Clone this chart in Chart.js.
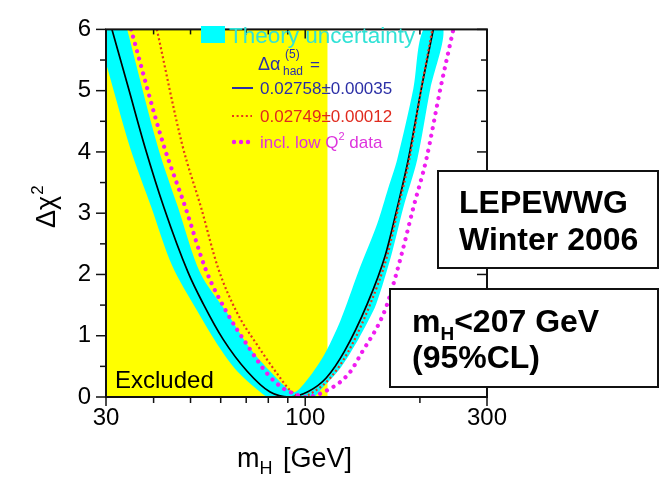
<!DOCTYPE html>
<html>
<head>
<meta charset="utf-8">
<script src="https://cdn.jsdelivr.net/npm/chart.js@4.4.1/dist/chart.umd.min.js"></script>
<style>
  html, body { margin: 0; padding: 0; background: #ffffff; }
  canvas { display: block; }
</style>
</head>
<body>
<canvas id="chart" width="661" height="477"></canvas>
<script>
// Δχ² of the electroweak fit as a function of the Higgs mass (GeV)

// Direct-search exclusion limit
const excludedBelow = 114.4;

// Δα_had = 0.02758 ± 0.00035 (solid line)
const fitMass = [31.1, 34.4, 38.0, 42.6, 49.3, 54.0, 60.9, 70.4, 80.9, 90.8, 101.9, 113.5, 126.6, 145.5, 162.2, 174.4, 186.5, 201.7, 216.9];
const fitChi2 = [6.00, 5.03, 4.07, 3.09, 2.03, 1.52, 0.94, 0.42, 0.08, 0.00, 0.09, 0.31, 0.74, 1.52, 2.31, 3.09, 3.88, 5.03, 6.00];

// Δα_had = 0.02749 ± 0.00012 (thin dotted line)
const altMass = [40.8, 47.5, 53.3, 59.1, 66.3, 74.8, 84.4, 91.3, 97.6, 105.6, 116.3, 129.7, 148.2, 164.2, 175.5, 187.6, 201.7, 215.6];
const altChi2 = [6.00, 4.13, 3.09, 2.10, 1.37, 0.85, 0.38, 0.11, 0.00, 0.09, 0.31, 0.74, 1.52, 2.31, 3.09, 3.88, 5.03, 6.00];

// including low-Q² data (heavy dotted line)
const lowQ2Mass = [34.9, 42.4, 48.5, 54.9, 62.4, 70.4, 79.5, 87.5, 93.0, 100.0, 114.2, 130.5, 141.2, 156.5, 164.2, 178.7, 192.2, 207.9, 226.3, 244.8];
const lowQ2Chi2 = [6.00, 4.13, 3.09, 2.07, 1.37, 0.85, 0.38, 0.14, 0.06, 0.00, 0.11, 0.39, 0.74, 1.21, 1.52, 2.31, 3.09, 3.88, 5.03, 6.00];

// Theory uncertainty band: upper and lower envelopes
const bandUpperMass = [34.1, 41.1, 46.4, 53.0, 62.4, 71.7, 80.9, 93.0, 99.4, 111.5, 123.6, 137.8, 154.6, 165.2, 174.4, 192.2, 204.2];
const bandUpperChi2 = [6.00, 4.07, 3.09, 2.03, 1.37, 0.79, 0.42, 0.08, 0.22, 0.66, 1.24, 2.04, 2.83, 3.41, 3.88, 5.03, 6.00];
const bandLowerMass = [28.3, 30.0, 34.7, 39.5, 44.7, 52.0, 59.8, 66.3, 76.2, 79.9, 105.0, 109.5, 123.6, 137.8, 145.5, 153.7, 168.2, 180.9, 196.9, 213.0, 230.5];
const bandLowerChi2 = [6.00, 5.45, 4.07, 3.09, 2.15, 1.41, 0.79, 0.42, 0.08, 0.00, 0.00, 0.11, 0.47, 0.94, 1.21, 1.52, 2.31, 3.09, 3.88, 5.03, 6.00];

// Axis ticks
const xMajorTicks = [30, 100, 300];
const xMinorTicks = [40, 50, 60, 70, 80, 90, 200];
const yMajorTicks = [0, 1, 2, 3, 4, 5, 6];
const yMinorTicks = [0.5, 1.5, 2.5, 3.5, 4.5, 5.5];

const FONT = '"Liberation Sans", Arial, Helvetica, sans-serif';
const CYAN = '#00ffff';
const BLUE = '#2b2fa6';
const RED = '#e6381a';
const MAGENTA = '#f01cf0';

const pts = (xs, ys) => xs.map((x, i) => ({ x, y: ys[i] }));

// closed outline of the band: along the lower envelope, back along the upper one
const bandOutline = pts(bandLowerMass, bandLowerChi2).concat(pts(bandUpperMass, bandUpperChi2).reverse());

function put(ctx, str, x, y, size, color, bold) {
  ctx.font = (bold ? 'bold ' : '') + size + 'px ' + FONT;
  ctx.fillStyle = color;
  ctx.textAlign = 'left';
  ctx.textBaseline = 'alphabetic';
  ctx.fillText(str, x, y);
  return ctx.measureText(str).width;
}

const decorations = {
  id: 'decorations',
  beforeDatasetsDraw(chart) {
    // excluded region
    const { ctx, chartArea: a, scales: { x } } = chart;
    const xr = x.getPixelForValue(excludedBelow);
    ctx.save();
    ctx.fillStyle = '#ffff00';
    ctx.fillRect(a.left, a.top, xr - a.left, a.bottom - a.top);
    ctx.restore();
  },
  afterDatasetsDraw(chart) {
    const { ctx, chartArea: a, scales: { x, y } } = chart;
    ctx.save();

    // frame
    ctx.strokeStyle = '#111';
    ctx.lineWidth = 2;
    ctx.strokeRect(a.left, a.top, a.right - a.left, a.bottom - a.top);

    // tick marks: outward on left/bottom, inward on top/right
    ctx.lineWidth = 1.5;
    const seg = (x1, y1, x2, y2) => { ctx.beginPath(); ctx.moveTo(x1, y1); ctx.lineTo(x2, y2); ctx.stroke(); };
    xMajorTicks.forEach(v => { const p = x.getPixelForValue(v); seg(p, a.bottom, p, a.bottom + 9); seg(p, a.top, p, a.top + 9); });
    xMinorTicks.forEach(v => { const p = x.getPixelForValue(v); seg(p, a.bottom, p, a.bottom + 6); seg(p, a.top, p, a.top + 5); });
    yMajorTicks.forEach(v => { const p = y.getPixelForValue(v); seg(a.left - 10, p, a.left, p); seg(a.right - 10, p, a.right, p); });
    yMinorTicks.forEach(v => { const p = y.getPixelForValue(v); seg(a.left - 6, p, a.left, p); seg(a.right - 6, p, a.right, p); });

    // legend
    ctx.fillStyle = CYAN;
    ctx.fillRect(201, 26, 24, 17);
    put(ctx, 'Theory uncertainty', 229, 43, 22.5, '#30e2d6');

    put(ctx, 'Δα', 258, 70, 18, BLUE);
    put(ctx, 'had', 283, 75, 12, BLUE);
    put(ctx, '(5)', 285, 58, 12, BLUE);
    put(ctx, '=', 310, 70, 17, BLUE);

    ctx.strokeStyle = BLUE;
    ctx.lineWidth = 2;
    seg(232, 88, 253, 88);
    put(ctx, '0.02758±0.00035', 260, 94, 17, BLUE);

    ctx.strokeStyle = RED;
    ctx.setLineDash([2, 2.6]);
    seg(232, 116, 252, 116);
    ctx.setLineDash([]);
    put(ctx, '0.02749±0.00012', 260, 122, 17, '#e02a1e');

    ctx.fillStyle = MAGENTA;
    [234, 241, 248].forEach(cx => { ctx.beginPath(); ctx.arc(cx, 142, 2.2, 0, Math.PI * 2); ctx.fill(); });
    let w = put(ctx, 'incl. low Q', 260, 148, 17, '#dd33dd');
    w += put(ctx, '2', 260 + w, 140, 11, '#dd33dd');
    put(ctx, ' data', 260 + w, 148, 17, '#dd33dd');

    // excluded label
    put(ctx, 'Excluded', 115, 388, 24, '#000');

    // axis titles
    let xw = put(ctx, 'm', 237, 467, 27, '#000');
    put(ctx, 'H', 237 + xw, 474, 18, '#000');
    put(ctx, '[GeV]', 283, 467, 27, '#000');

    ctx.save();
    ctx.translate(55, 228);
    ctx.rotate(-Math.PI / 2);
    const yw = put(ctx, 'Δχ', 0, 0, 27, '#000');
    put(ctx, '2', yw + 1, -12, 17, '#000');
    ctx.restore();

    // info boxes
    ctx.lineWidth = 2;
    ctx.strokeStyle = '#111';
    ctx.fillStyle = '#fff';
    ctx.fillRect(438, 171, 220, 97);
    ctx.strokeRect(438, 171, 220, 97);
    put(ctx, 'LEPEWWG', 459, 213, 32, '#000', true);
    put(ctx, 'Winter 2006', 459, 250, 32, '#000', true);

    ctx.fillStyle = '#fff';
    ctx.fillRect(390, 289, 268, 98);
    ctx.strokeRect(390, 289, 268, 98);
    let bw = put(ctx, 'm', 412, 332, 32, '#000', true);
    bw += put(ctx, 'H', 412 + bw, 340, 19, '#000', true);
    put(ctx, '<207 GeV', 412 + bw, 332, 32, '#000', true);
    put(ctx, '(95%CL)', 412, 368, 32, '#000', true);

    ctx.restore();
  }
};

const lineDefaults = { pointRadius: 0, cubicInterpolationMode: 'monotone', clip: 0 };

new Chart(document.getElementById('chart'), {
  type: 'line',
  data: {
    datasets: [
      { ...lineDefaults, label: 'incl. low Q2 data', data: pts(lowQ2Mass, lowQ2Chi2),
        borderColor: MAGENTA, borderWidth: 4.2, borderDash: [0.01, 7.6], borderCapStyle: 'round', fill: false },
      { ...lineDefaults, label: '0.02749±0.00012', data: pts(altMass, altChi2),
        borderColor: RED, borderWidth: 2.2, borderDash: [2, 2.6], fill: false },
      { ...lineDefaults, label: '0.02758±0.00035', data: pts(fitMass, fitChi2),
        borderColor: '#000', borderWidth: 1.7, fill: false },
      { pointRadius: 0, clip: 0, label: 'Theory uncertainty', data: bandOutline,
        cubicInterpolationMode: 'default', tension: 0.3,
        borderColor: 'rgba(0,0,0,0)', borderWidth: 0, backgroundColor: CYAN, fill: 'shape' }
    ]
  },
  options: {
    responsive: false,
    devicePixelRatio: 1,
    animation: false,
    events: [],
    layout: { padding: { left: 0, right: 174, top: 15, bottom: 0 } },
    plugins: { legend: { display: false }, tooltip: { enabled: false } },
    scales: {
      x: {
        type: 'logarithmic', min: 30, max: 300,
        afterBuildTicks: s => { s.ticks = xMajorTicks.map(v => ({ value: v })); },
        afterFit: s => { s.height = 80; },
        grid: { display: false, drawTicks: false },
        border: { display: false },
        ticks: { font: { family: FONT, size: 24 }, color: '#000', padding: 7,
                 maxRotation: 0, autoSkip: false, callback: v => String(v) }
      },
      y: {
        type: 'linear', min: 0, max: 6,
        afterBuildTicks: s => { s.ticks = yMajorTicks.map(v => ({ value: v })); },
        afterFit: s => { s.width = 106; },
        grid: { display: false, drawTicks: false },
        border: { display: false },
        ticks: { font: { family: FONT, size: 24 }, color: '#000', padding: 15,
                 callback: v => String(v) }
      }
    }
  },
  plugins: [decorations]
});
</script>
</body>
</html>
